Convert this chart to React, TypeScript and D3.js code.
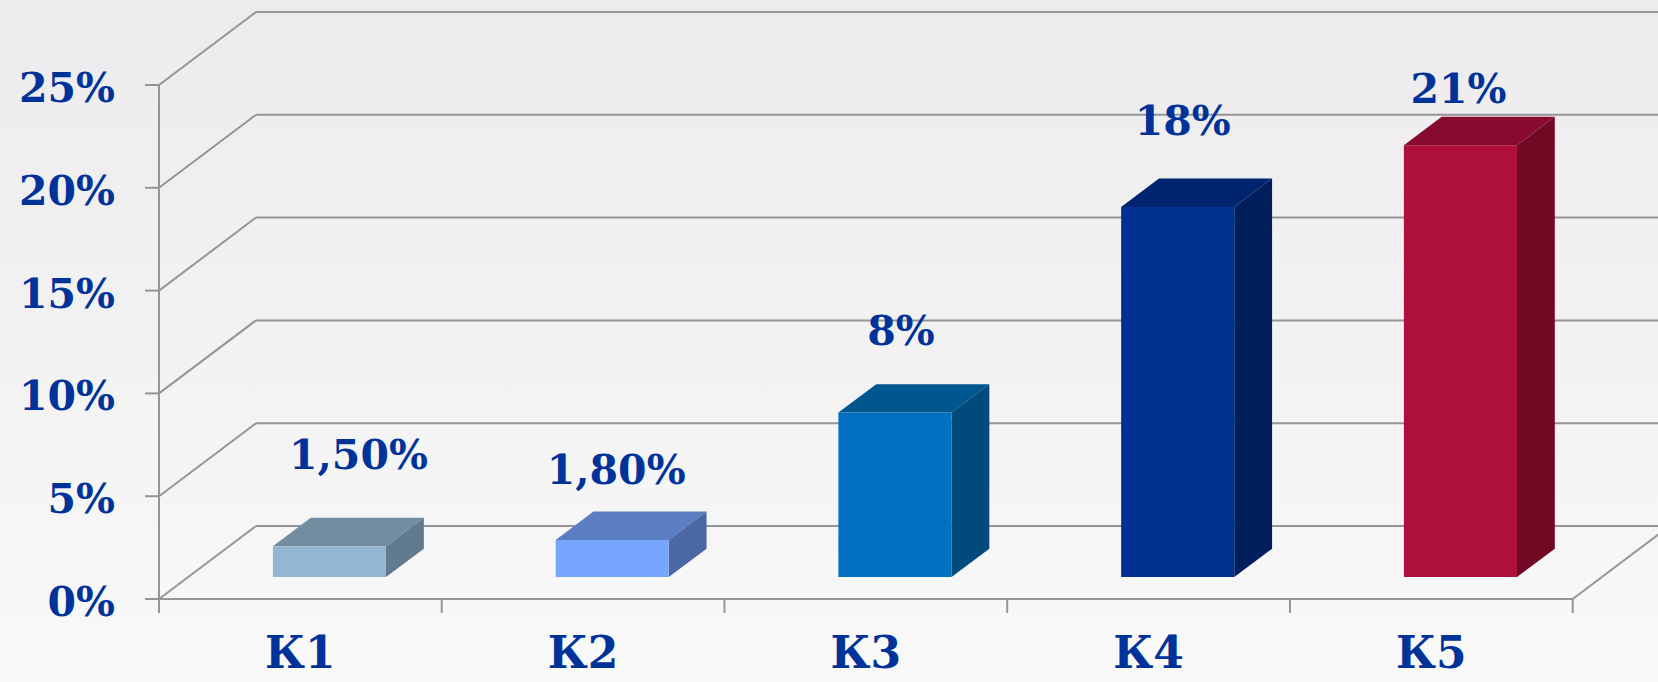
import React from "react";
import * as d3 from "d3";

const categories = ["К1", "К2", "К3", "К4", "К5"];
const values = [1.5, 1.8, 8, 18, 21];
const valueLabels = ["1,50%", "1,80%", "8%", "18%", "21%"];
const yTicks = [0, 5, 10, 15, 20, 25];
const frontColors = ["#95B6D3", "#78A6FF", "#0070C0", "#003090", "#AE0F3C"];
const topColors = ["#728CA0", "#5B7DC2", "#00568F", "#00246E", "#880A2E"];
const sideColors = ["#627A8E", "#4B67A4", "#004A7C", "#001F5C", "#720824"];

// layout (label nudges relative to bar top, as placed in the original)
const labelNudgeX = [29, 4, 6, 5, -2];
const labelGap = [49, 28, 39, 44, 14];

const W = 1658;
const H = 682;
const X0 = 159;
const X1 = 1572.7;
const Y0 = 599;
const Y25 = 85;
const DX = 97;
const DY = -73;
const BAR_D0 = 0.3;
const BAR_D1 = 0.69;
const TEXT = "#00339A";
const GRID = "#959595";
const SW = 2;
const FONT = "'DejaVu Serif', Georgia, serif";

export default function App() {
  const x = d3
    .scaleBand<string>()
    .domain(categories)
    .range([X0, X1])
    .paddingInner(0.6)
    .paddingOuter(0.3);
  const xStep = d3.scaleBand<string>().domain(categories).range([X0, X1]);
  const y = d3.scaleLinear().domain([0, 25]).range([Y0, Y25]);

  const pt = (px: number, py: number, d: number) => [px + DX * d, py + DY * d];
  const poly = (pts: number[][]) => pts.map((p) => p.join(",")).join(" ");

  return (
    <svg
      width={W}
      height={H}
      style={{ position: "absolute", left: 0, top: 0 }}
      xmlns="http://www.w3.org/2000/svg"
    >
      <defs>
        <linearGradient id="bg" x1="0" y1="0" x2="0" y2="1">
          <stop offset="0" stopColor="#EDEBED" />
          <stop offset="1" stopColor="#F9F9F9" />
        </linearGradient>
      </defs>
      <rect x={0} y={0} width={W} height={H} fill="url(#bg)" />

      {/* gridlines: side wall diagonals + back wall horizontals */}
      {yTicks.map((t) => {
        const yy = y(t);
        const [bx, by] = pt(X0, yy, 1);
        return (
          <g key={t}>
            <line x1={X0} y1={yy} x2={bx} y2={by} stroke={GRID} strokeWidth={SW} />
            <line x1={bx} y1={by} x2={X1 + DX} y2={by} stroke={GRID} strokeWidth={SW} />
            <line x1={X0 - 14} y1={yy} x2={X0} y2={yy} stroke={GRID} strokeWidth={SW} />
          </g>
        );
      })}

      {/* floor front and right edge */}
      <line x1={X0} y1={Y0} x2={X1} y2={Y0} stroke={GRID} strokeWidth={SW} />
      <line x1={X1} y1={Y0} x2={X1 + DX} y2={Y0 + DY} stroke={GRID} strokeWidth={SW} />
      {/* y axis */}
      <line x1={X0} y1={Y25} x2={X0} y2={Y0 + 14} stroke={GRID} strokeWidth={SW} />
      {/* x ticks */}
      {categories.map((c, i) => {
        const xx = (xStep(c) as number) + xStep.bandwidth();
        return (
          <line key={i} x1={xx} y1={Y0} x2={xx} y2={Y0 + 14} stroke={GRID} strokeWidth={SW} />
        );
      })}

      {/* y labels */}
      {yTicks.map((t) => (
        <text
          key={t}
          x={115}
          y={y(t) + 17}
          textAnchor="end"
          fontFamily={FONT}
          fontWeight="bold"
          fontSize={41}
          fill={TEXT}
        >
          {t}%
        </text>
      ))}

      {/* bars */}
      {categories.map((c, i) => {
        const xl = x(c) as number;
        const xr = xl + x.bandwidth();
        const yt = y(values[i]);
        const yb = Y0;
        const fl = pt(xl, yb, BAR_D0);
        const fr = pt(xr, yb, BAR_D0);
        const ftl = pt(xl, yt, BAR_D0);
        const ftr = pt(xr, yt, BAR_D0);
        const btl = pt(xl, yt, BAR_D1);
        const btr = pt(xr, yt, BAR_D1);
        const bbr = pt(xr, yb, BAR_D1);
        return (
          <g key={c}>
            <polygon points={poly([ftl, ftr, btr, btl])} fill={topColors[i]} />
            <polygon points={poly([ftr, btr, bbr, fr])} fill={sideColors[i]} />
            <polygon points={poly([ftl, ftr, fr, fl])} fill={frontColors[i]} />
          </g>
        );
      })}

      {/* value labels */}
      {categories.map((c, i) => {
        const xl = x(c) as number;
        const cx = xl + x.bandwidth() / 2 + DX * BAR_D0 + labelNudgeX[i];
        const topBack = y(values[i]) + DY * BAR_D1;
        return (
          <text
            key={c}
            x={cx}
            y={topBack - labelGap[i]}
            textAnchor="middle"
            fontFamily={FONT}
            fontWeight="bold"
            fontSize={41}
            fill={TEXT}
          >
            {valueLabels[i]}
          </text>
        );
      })}

      {/* category labels */}
      {categories.map((c) => (
        <text
          key={c}
          x={(xStep(c) as number) + xStep.bandwidth() / 2}
          y={668}
          textAnchor="middle"
          fontFamily={FONT}
          fontWeight="bold"
          fontSize={44}
          fill={TEXT}
        >
          {c}
        </text>
      ))}
    </svg>
  );
}
